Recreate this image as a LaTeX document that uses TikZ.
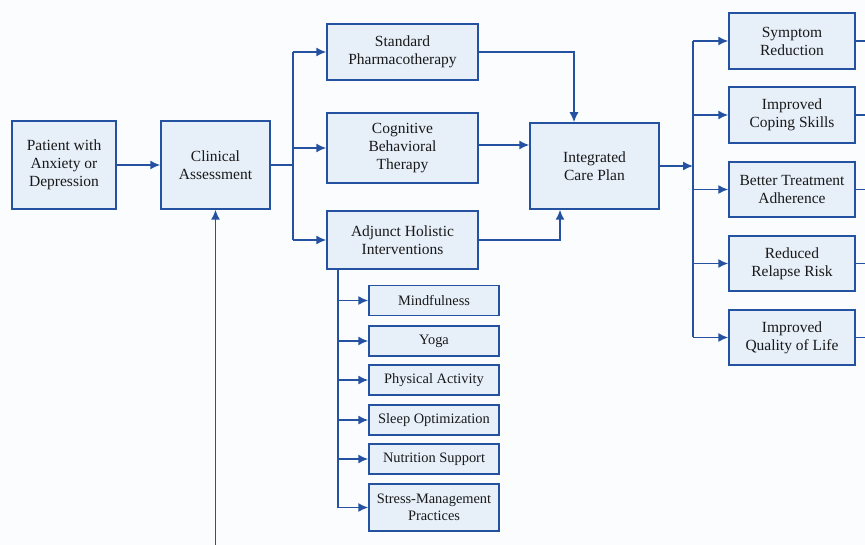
\documentclass[tikz,border=0pt]{standalone}
\usepackage{fontspec}
\setmainfont{Liberation Serif}
\usetikzlibrary{arrows.meta,calc}
\definecolor{bc}{HTML}{2452A0}
\definecolor{bf}{HTML}{E7EFF9}
\definecolor{bg}{HTML}{FBFCFD}
\begin{document}
\begin{tikzpicture}[x=1pt,y=-1pt,
  box/.style={draw=bc, fill=bf, line width=1.5pt, align=center, inner sep=0pt,
    font=\fontsize{15.5}{18}\selectfont, text=black!90},
  sub/.style={box, font=\fontsize{14.4}{17.5}\selectfont},
  arr/.style={-{Latex[length=10pt,width=9pt]}, draw=bc, line width=1.5pt},
  ln/.style={draw=bc, line width=1.5pt}]
\fill[bg] (0,0) rectangle (865,545);
\useasboundingbox (0,0) rectangle (865,545);

\node[box, minimum width=104pt, minimum height=88pt] (p) at (64,165) {Patient with\\Anxiety or\\Depression};
\node[box, minimum width=109pt, minimum height=88pt] (c) at (215.5,165) {Clinical\\Assessment};
\node[box, minimum width=151pt, minimum height=56pt] (sp) at (402.5,52) {Standard\\Pharmacotherapy};
\node[box, minimum width=151pt, minimum height=70pt] (cbt) at (402.5,148) {Cognitive\\Behavioral\\Therapy};
\node[box, minimum width=151pt, minimum height=58pt] (adj) at (402.5,240) {Adjunct Holistic\\Interventions};
\node[box, minimum width=129pt, minimum height=86pt] (icp) at (594.5,166) {Integrated\\Care Plan};

\node[box, minimum width=126pt, minimum height=56pt] (o1) at (792,41) {Symptom\\Reduction};
\node[box, minimum width=126pt, minimum height=56pt] (o2) at (792,115) {Improved\\Coping Skills};
\node[box, minimum width=126pt, minimum height=55pt] (o3) at (792,189.5) {Better Treatment\\Adherence};
\node[box, minimum width=126pt, minimum height=55pt] (o4) at (792,263.5) {Reduced\\Relapse Risk};
\node[box, minimum width=126pt, minimum height=55pt] (o5) at (792,337.5) {Improved\\Quality of Life};

\node[sub, minimum width=130pt, minimum height=30pt] (s1) at (434,300.5) {Mindfulness};
\node[sub, minimum width=130pt, minimum height=30pt] (s2) at (434,341) {Yoga};
\node[sub, minimum width=130pt, minimum height=30pt] (s3) at (434,380) {Physical Activity};
\node[sub, minimum width=130pt, minimum height=30pt] (s4) at (434,420) {Sleep Optimization};
\node[sub, minimum width=130pt, minimum height=30pt] (s5) at (434,459) {Nutrition Support};
\node[sub, minimum width=130pt, minimum height=47pt] (s6) at (434,507.5) {Stress-Management\\Practices};

\coordinate (cb) at (293,165);
\coordinate (ob) at (693,166);
\coordinate (ab) at (338,269);
\coordinate (bot) at (215.5,545);
\coordinate (edge) at (865,0);

\draw[arr] (p) -- (c);
\draw[ln] (c.east) -- (cb);
\draw[ln] (cb |- sp.west) -- (cb |- adj.west);
\draw[arr] (cb |- sp.west) -- (sp.west);
\draw[arr] (cb |- cbt.west) -- (cbt.west);
\draw[arr] (cb |- adj.west) -- (adj.west);

\draw[arr] (sp.east) -| ([xshift=-20.5pt]icp.north);
\draw[arr] ([yshift=3pt]cbt.east) -- ([yshift=3pt]cbt.east -| icp.west);
\draw[arr] (adj.east) -| ([xshift=-34.5pt]icp.south);

\draw[arr] (icp.east) -- (ob);
\draw[ln] (ob |- o1.west) -- (ob |- o5.west);
\foreach \o in {o1,o2,o3,o4,o5}{
  \draw[arr] (ob |- \o.west) -- (\o.west);
  \draw[ln] (\o.east) -- (\o.east -| edge);
}

\draw[ln] (ab) -- (ab |- s6.west);
\foreach \s in {s1,s2,s3,s4,s5,s6}{
  \draw[arr] (ab |- \s.west) -- (\s.west);
}

\draw[arr] (bot) -- (c.south);
\end{tikzpicture}
\end{document}
